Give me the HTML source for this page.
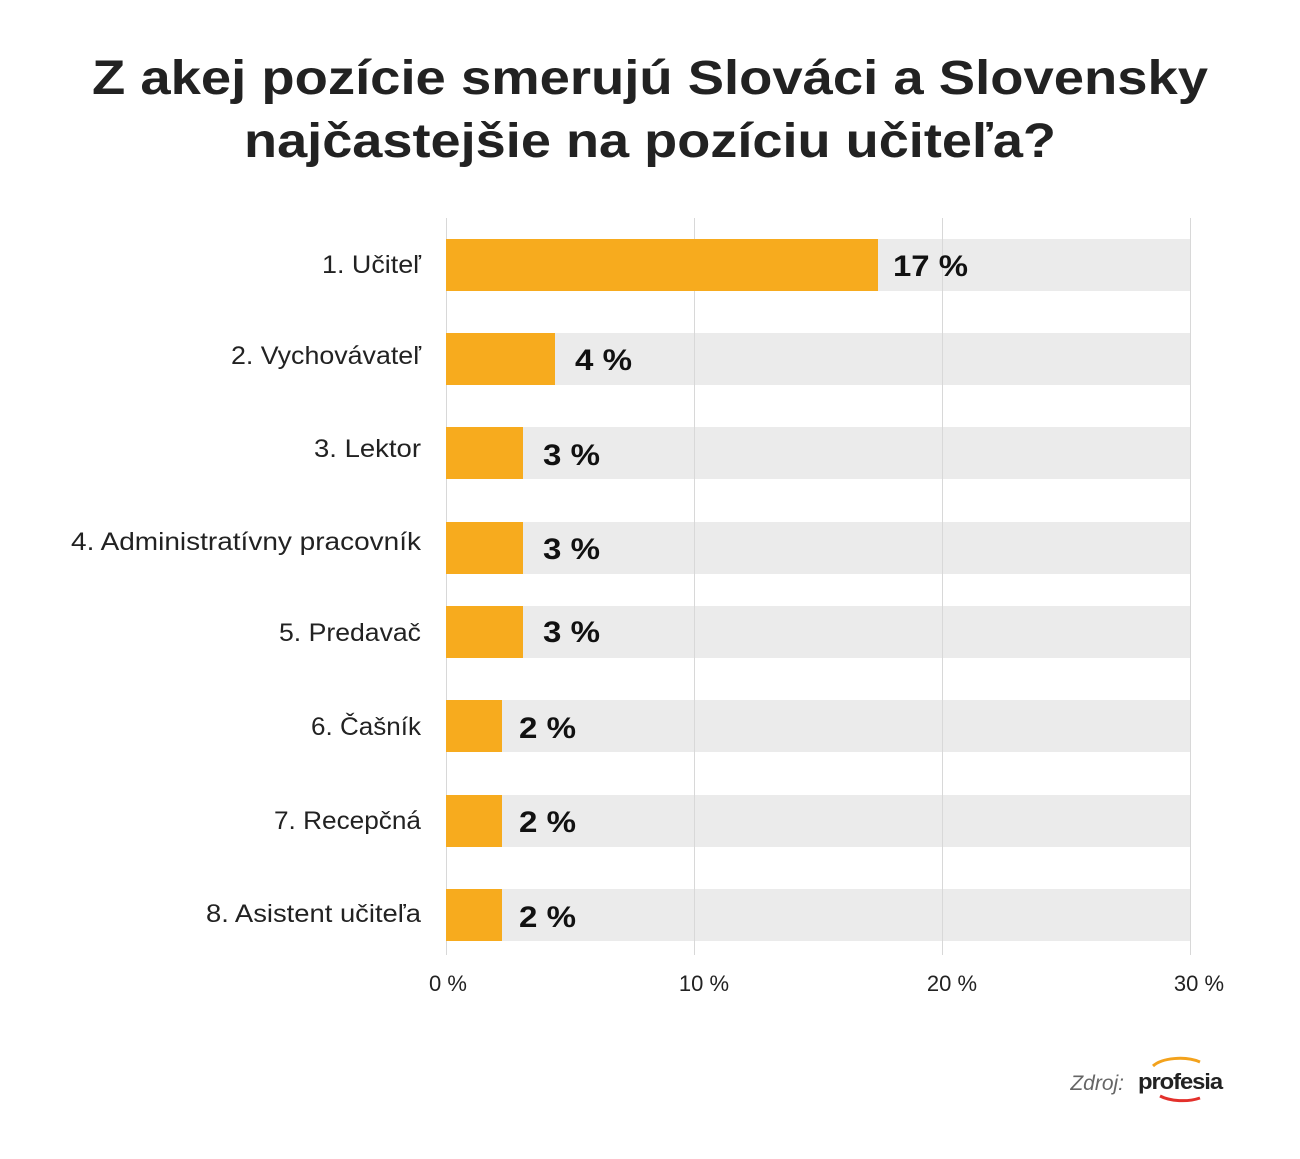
<!DOCTYPE html>
<html><head><meta charset="utf-8"><style>body{margin:0;background:#fff}svg{display:block}</style></head>
<body>
<svg width="1300" height="1159" xmlns="http://www.w3.org/2000/svg" font-family="'Liberation Sans', sans-serif">
<rect width="1300" height="1159" fill="#fff"/>
<text x="650" y="94" text-anchor="middle" font-size="48" font-weight="bold" fill="#222" textLength="1116" lengthAdjust="spacingAndGlyphs">Z akej pozície smerujú Slováci a Slovensky</text>
<text x="650" y="157" text-anchor="middle" font-size="48" font-weight="bold" fill="#222" textLength="812" lengthAdjust="spacingAndGlyphs">najčastejšie na pozíciu učiteľa?</text>
<g fill="#ebebeb">
<rect x="446" y="239" width="745" height="52"/><rect x="446" y="333" width="745" height="52"/>
<rect x="446" y="427" width="745" height="52"/><rect x="446" y="522" width="745" height="52"/>
<rect x="446" y="606" width="745" height="52"/><rect x="446" y="700" width="745" height="52"/>
<rect x="446" y="795" width="745" height="52"/><rect x="446" y="889" width="745" height="52"/>
</g>
<g stroke="#d8d8d8" stroke-width="1">
<line x1="446.5" y1="218" x2="446.5" y2="955"/><line x1="694.5" y1="218" x2="694.5" y2="955"/>
<line x1="942.5" y1="218" x2="942.5" y2="955"/><line x1="1190.5" y1="218" x2="1190.5" y2="955"/>
</g>
<g fill="#f7ab1e">
<rect x="446" y="239" width="432" height="52"/><rect x="446" y="333" width="109" height="52"/>
<rect x="446" y="427" width="77" height="52"/><rect x="446" y="522" width="77" height="52"/>
<rect x="446" y="606" width="77" height="52"/><rect x="446" y="700" width="56" height="52"/>
<rect x="446" y="795" width="56" height="52"/><rect x="446" y="889" width="56" height="52"/>
</g>
<g font-size="25" fill="#222" text-anchor="end">
<text x="421" y="273" textLength="99" lengthAdjust="spacingAndGlyphs">1. Učiteľ</text>
<text x="421" y="364" textLength="190" lengthAdjust="spacingAndGlyphs">2. Vychovávateľ</text>
<text x="421" y="457" textLength="107" lengthAdjust="spacingAndGlyphs">3. Lektor</text>
<text x="421" y="550" textLength="350" lengthAdjust="spacingAndGlyphs">4. Administratívny pracovník</text>
<text x="421" y="641" textLength="142" lengthAdjust="spacingAndGlyphs">5. Predavač</text>
<text x="421" y="735" textLength="110" lengthAdjust="spacingAndGlyphs">6. Čašník</text>
<text x="421" y="829" textLength="147" lengthAdjust="spacingAndGlyphs">7. Recepčná</text>
<text x="421" y="922" textLength="215" lengthAdjust="spacingAndGlyphs">8. Asistent učiteľa</text>
</g>
<g font-size="30" font-weight="bold" fill="#111">
<text x="893" y="276" textLength="75" lengthAdjust="spacingAndGlyphs">17 %</text>
<text x="575" y="370" textLength="57" lengthAdjust="spacingAndGlyphs">4 %</text>
<text x="543" y="465" textLength="57" lengthAdjust="spacingAndGlyphs">3 %</text>
<text x="543" y="559" textLength="57" lengthAdjust="spacingAndGlyphs">3 %</text>
<text x="543" y="642" textLength="57" lengthAdjust="spacingAndGlyphs">3 %</text>
<text x="519" y="738" textLength="57" lengthAdjust="spacingAndGlyphs">2 %</text>
<text x="519" y="832" textLength="57" lengthAdjust="spacingAndGlyphs">2 %</text>
<text x="519" y="927" textLength="57" lengthAdjust="spacingAndGlyphs">2 %</text>
</g>
<g font-size="22" fill="#222" text-anchor="middle">
<text x="448" y="991">0 %</text><text x="704" y="991">10 %</text>
<text x="952" y="991">20 %</text><text x="1199" y="991">30 %</text>
</g>
<text x="1124" y="1090" font-size="21" font-style="italic" fill="#666" text-anchor="end">Zdroj:</text>
<path d="M1153 1066 A30 14 0 0 1 1200 1062" stroke="#f3a21c" stroke-width="3" fill="none"/>
<path d="M1160 1096 A30 14 0 0 0 1200 1098" stroke="#e3302b" stroke-width="3" fill="none"/>
<text x="1138" y="1089" font-size="22" font-weight="bold" fill="#222" letter-spacing="-1" textLength="84" lengthAdjust="spacingAndGlyphs">profesia</text>
</svg>
</body></html>
